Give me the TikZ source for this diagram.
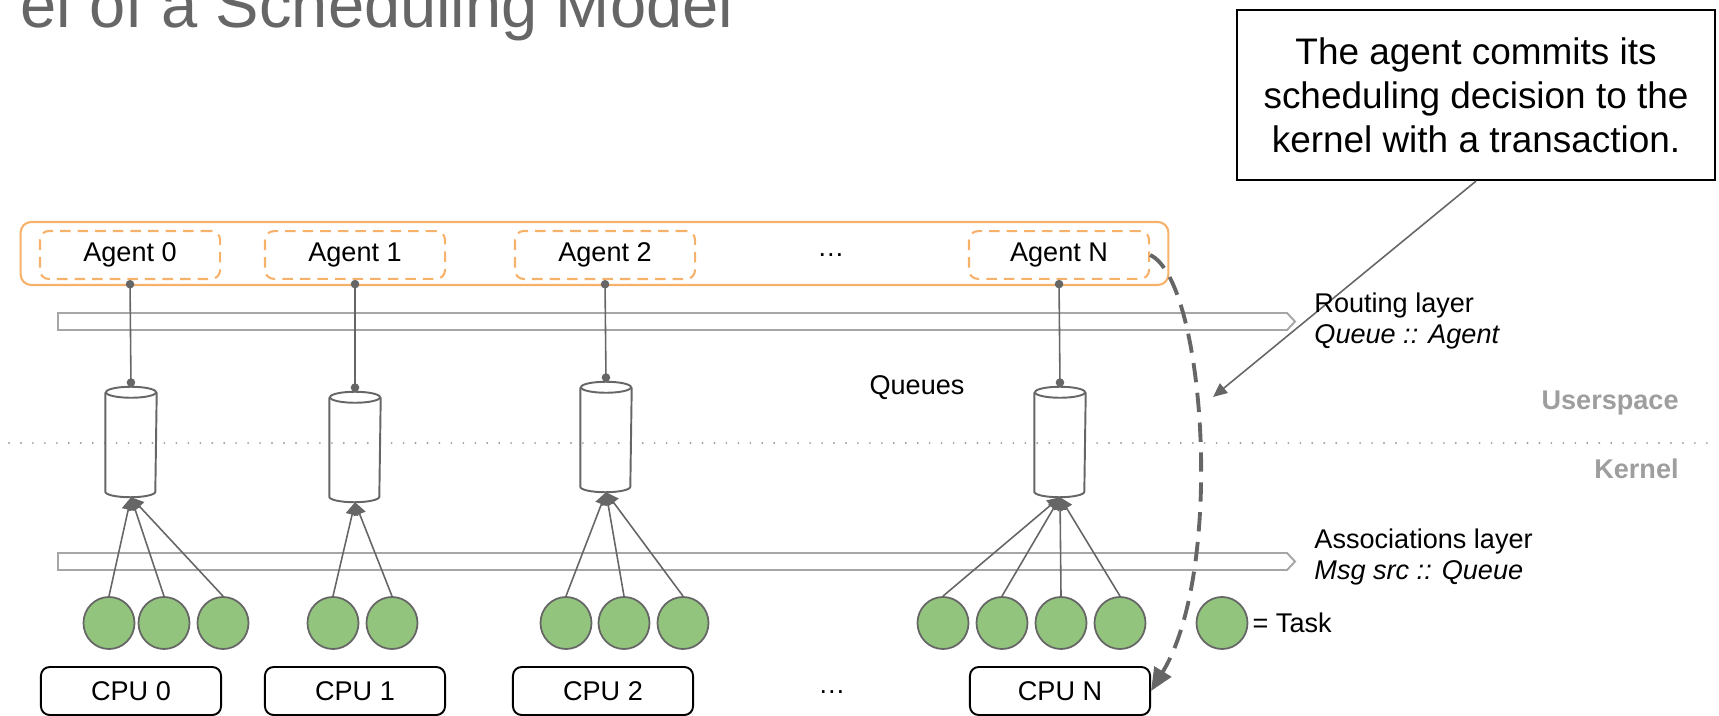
\documentclass[tikz,border=0pt]{standalone}
\usepackage{fontspec}
\setmainfont{Liberation Sans}
\usetikzlibrary{arrows.meta,shapes.geometric}
\definecolor{agentorange}{HTML}{F6B26B}
\definecolor{linegray}{HTML}{666666}
\definecolor{bargray}{HTML}{A6A6A6}
\definecolor{taskgreen}{HTML}{93C47D}
\definecolor{labelgray}{HTML}{9E9E9E}
\begin{document}
\begin{tikzpicture}[x=0.01cm, y=-0.01cm,
    every node/.style={font=\fontsize{7.7}{9}\selectfont},
    agent/.style={draw=agentorange, dash pattern=on 3pt off 2pt, rounded corners=2.5pt, line width=0.6pt, minimum width=1.8cm, minimum height=0.47cm},
    cpu/.style={draw=black, rounded corners=2.5pt, line width=0.55pt, minimum width=1.8cm, minimum height=0.48cm},
    queue/.style={minimum width=0.5cm, minimum height=1.09cm, inner sep=0pt},
    queueline/.style={draw=linegray, line width=0.55pt},
    task/.style={ellipse, draw=linegray, fill=taskgreen, line width=0.5pt, minimum width=0.51cm, minimum height=0.52cm, inner sep=0pt},
    link/.style={draw=linegray, line width=0.45pt, {Circle[length=2.4pt]}-{Circle[length=2.4pt]}},
    feed/.style={draw=linegray, line width=0.45pt, -{Triangle[length=3.6pt, width=3.6pt]}},
    layerbar/.style={draw=bargray, line width=0.55pt},
  ]
  \useasboundingbox (0,0) rectangle (1719,716);

  % Title (cut by the top edge)
  \node[anchor=base west, inner sep=0pt, text=linegray, font=\fontsize{18.5}{22}\selectfont] (title) at (20,28) {el of a Scheduling Model};

  % Callout
  \node[draw=black, line width=0.6pt, minimum width=4.78cm, minimum height=1.7cm, align=center, font=\fontsize{10.5}{12.5}\selectfont] (note) at (1476,95) {The agent commits its\\scheduling decision to the\\kernel with a transaction.};
  \coordinate (notetip) at (1213,397);
  \draw[linegray, line width=0.45pt, -{Triangle[length=4pt, width=3.5pt]}] (note.south) -- (notetip);

  % Layers
  \draw[layerbar] (58,313) -- (1287,313) -- (1295,321.5) -- (1287,330) -- (58,330) -- cycle;
  \draw[layerbar] (58,553) -- (1287,553) -- (1295,561.5) -- (1287,570) -- (58,570) -- cycle;
  \node[anchor=west, align=left] (routing) at (1302,321) {Routing layer\\\textit{Queue :: Agent}};
  \node[anchor=west, align=left] (assoc) at (1302,557) {Associations layer\\\textit{Msg src :: Queue}};

  % Userspace / kernel boundary
  \draw[labelgray, line width=0.6pt, line cap=round, dash pattern=on 0pt off 3.4pt] (9,443) -- (1712,443);
  \node[anchor=east, text=labelgray, font=\fontsize{7.7}{9}\selectfont\bfseries] (user) at (1691,403) {Userspace};
  \node[anchor=east, text=labelgray, font=\fontsize{7.7}{9}\selectfont\bfseries] (kern) at (1691,469) {Kernel};

  % Agents
  \node[draw=agentorange, line width=0.6pt, rounded corners=3pt, minimum width=11.47cm, minimum height=0.63cm] (agents) at (594.5,253.5) {};
  \foreach \i/\x/\t in {0/130/Agent 0, 1/355/Agent 1, 2/605/Agent 2, n/1059/Agent N}
    \node[agent] (a\i) at (\x,255) {\t};
  \node (adots) at (831,255) {…};

  % Queues
  \foreach \i/\x/\y in {0/131/442, 1/355/447, 2/606/437, n/1060/442}{
    \node[queue] (q\i) at (\x,\y) {};
    \draw[queueline] ([yshift=-0.055cm]q\i.north west) -- ([yshift=0.055cm]q\i.south west)
      arc[start angle=180, end angle=360, x radius=0.25cm, y radius=0.055cm]
      -- ([yshift=-0.055cm]q\i.north east);
    \draw[queueline] ([yshift=-0.055cm]q\i.north) ellipse[x radius=0.25cm, y radius=0.055cm];
    \draw[link] (a\i.south) -- (q\i.north);
  }
  \node (queues) at (917,388) {Queues};

  % Tasks
  \foreach \x [count=\k] in {109,164,223}{
    \node[task] (t0\k) at (\x,623) {};
    \draw[feed] (t0\k.north) -- (q0.south);
  }
  \foreach \x [count=\k] in {333,392}{
    \node[task] (t1\k) at (\x,623) {};
    \draw[feed] (t1\k.north) -- (q1.south);
  }
  \foreach \x [count=\k] in {566,624,683}{
    \node[task] (t2\k) at (\x,623) {};
    \draw[feed] (t2\k.north) -- (q2.south);
  }
  \foreach \x [count=\k] in {943,1002,1061,1120}{
    \node[task] (tn\k) at (\x,623) {};
    \draw[feed] (tn\k.north) -- (qn.south);
  }
  \node[task] (tasklegend) at (1222,623) {};
  \node[anchor=west, inner sep=1pt] (tasklabel) at (tasklegend.east) {= Task};

  % CPUs
  \foreach \i/\x/\t in {0/131/CPU 0, 1/355/CPU 1, 2/603/CPU 2, n/1060/CPU N}
    \node[cpu] (c\i) at (\x,691) {\t};
  \node (cdots) at (832,692) {…};

  % Commit
  \draw[linegray, line width=1.1pt, dash pattern=on 5.5pt off 3pt, -{Triangle[length=6.5pt, width=5.5pt]}] (an.east) .. controls (1205,280) and (1225,570) .. (cn.east);
\end{tikzpicture}
\end{document}
